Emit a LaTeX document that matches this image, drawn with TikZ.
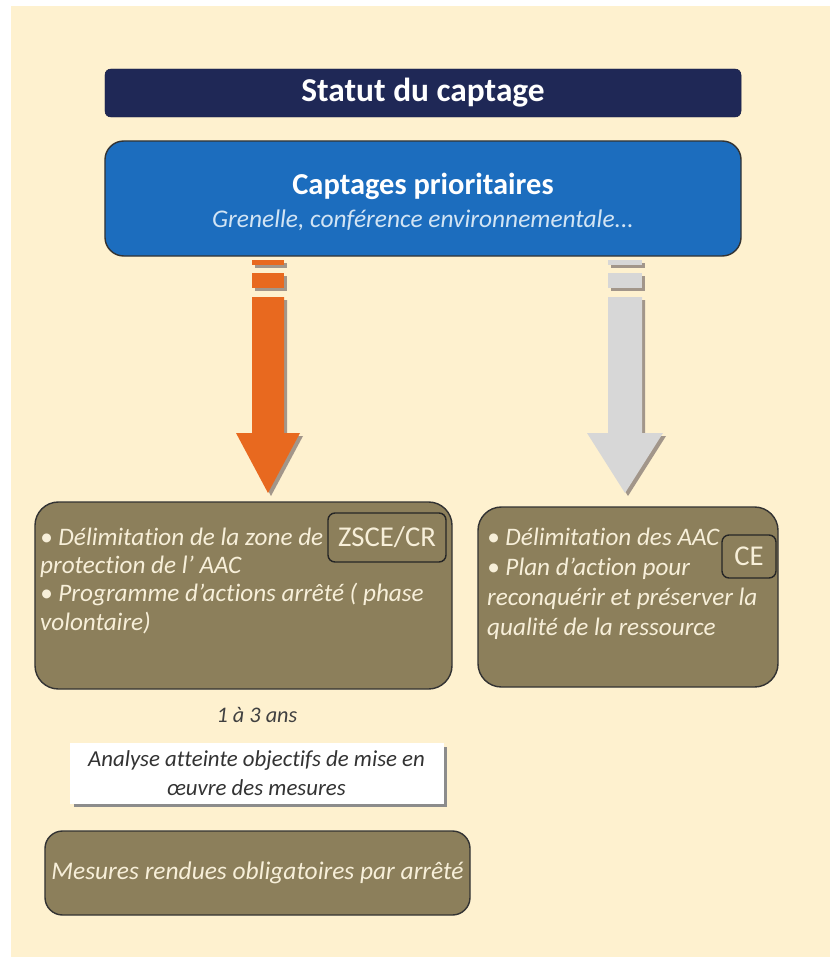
\documentclass[tikz,border=0pt]{standalone}
\usepackage{fontspec}
\setmainfont{Carlito}[Ligatures=NoCommon]
\usetikzlibrary{positioning}

\definecolor{cream}{HTML}{FEF1CF}
\definecolor{navy}{HTML}{1F2856}
\definecolor{prioblue}{HTML}{1C6DBE}
\definecolor{olive}{HTML}{8C7F5B}
\definecolor{palewhite}{HTML}{F7EFD9}
\definecolor{paleblue}{HTML}{D2E4F4}
\definecolor{arroworange}{HTML}{E8691F}
\definecolor{arrowgrey}{HTML}{D7D7D7}
\definecolor{arrowshade}{HTML}{A2968A}

\tikzset{
  titlebox/.style={fill=navy, draw=navy!80!black, rounded corners=5pt, text=white,
    font=\fontsize{28.5}{32}\selectfont\bfseries},
  priobox/.style={fill=prioblue, draw=black!80, line width=1.2pt, rounded corners=16pt},
  olivebox/.style={fill=olive, draw=black!80, line width=1.2pt, rounded corners=20pt},
  tagbox/.style={draw=black!85, line width=1.2pt, rounded corners=6pt, text=palewhite,
    font=\fontsize{24.5}{27}\selectfont},
  boxtext/.style={text=palewhite, align=left, inner sep=0pt,
    font=\fontsize{21.5}{24}\selectfont\itshape},
  notebox/.style={fill=white, draw=white, align=center, text=black!80,
    font=\fontsize{19.5}{25}\selectfont\itshape}
}

\begin{document}
\begin{tikzpicture}[x=0.03cm, y=-0.03cm]
  \useasboundingbox (0,0) rectangle (830,957);
  \fill[white] (0,0) rectangle (830,957);
  \fill[cream] (11,6) rectangle (830,957);

  % header
  \node[titlebox, minimum width=19.08cm, minimum height=1.44cm] (statut) at (423,93) {Statut du captage};
  \node[priobox, minimum width=19.08cm, minimum height=3.45cm] (prio) at (423,198.5) {};
  \node[text=white, font=\fontsize{26}{30}\selectfont\bfseries] (priotitle) at (423,186) {Captages prioritaires};
  \node[text=paleblue, font=\fontsize{21.7}{25}\selectfont\itshape] (priosub) at (423,220) {Grenelle, conférence environnementale...};

  % block arrows: centre / shaft half width / head half width / colour
  \foreach \cx/\sw/\hw/\col in {268/16/32/arroworange, 625/17/38/arrowgrey} {
    \foreach \dx/\fc in {3/arrowshade, 0/\col} {
      \begin{scope}[xshift=\dx*0.03cm, yshift=-\dx*0.03cm]
        \fill[\fc] (\cx-\sw,260) rectangle (\cx+\sw,265);
        \fill[\fc] (\cx-\sw,273) rectangle (\cx+\sw,288);
        \fill[\fc] (\cx-\sw,297) -- (\cx+\sw,297) -- (\cx+\sw,433) -- (\cx+\hw,433)
          -- (\cx,493) -- (\cx-\hw,433) -- (\cx-\sw,433) -- cycle;
      \end{scope}
    }
  }

  % left branch
  \node[olivebox, minimum width=12.51cm, minimum height=5.61cm] (zonebox) at (243.5,595.5) {};
  \node[tagbox, minimum width=3.54cm, minimum height=1.47cm] (zsce) at (387,537.5) {ZSCE/CR};
  \node[boxtext, anchor=north west] (zonetext) at (40,528)
    {\textbullet\ Délimitation de la zone de\\
     protection de l’ AAC\\
     \textbullet\ Programme d’actions arrêté ( phase\\
     volontaire)};

  \node[text=black!75, font=\fontsize{19}{22}\selectfont\itshape] (delai) at (257,715) {1 à 3 ans};
  \fill[black!45] (74,747) rectangle (447,807);
  \node[notebox, minimum width=11.19cm, minimum height=1.8cm] (analyse) at (256.5,773)
    {Analyse atteinte objectifs de mise en\\ œuvre des mesures};
  \node[olivebox, rounded corners=15pt, minimum width=12.75cm, minimum height=2.52cm,
    text=palewhite, font=\fontsize{21.7}{24}\selectfont\itshape] (mesures) at (257.5,873)
    {Mesures rendues obligatoires par arrêté};

  % right branch
  \node[olivebox, minimum width=9cm, minimum height=5.4cm] (aacbox) at (628,597) {};
  \node[tagbox, minimum width=1.62cm, minimum height=1.29cm] (ce) at (749,556.5) {CE};
  \node[boxtext, anchor=north west, font=\fontsize{21.5}{25.5}\selectfont\itshape] (aactext) at (487,528)
    {\textbullet\ Délimitation des AAC\\
     \textbullet\ Plan d’action pour\\
     reconquérir et préserver la\\
     qualité de la ressource};
\end{tikzpicture}
\end{document}
